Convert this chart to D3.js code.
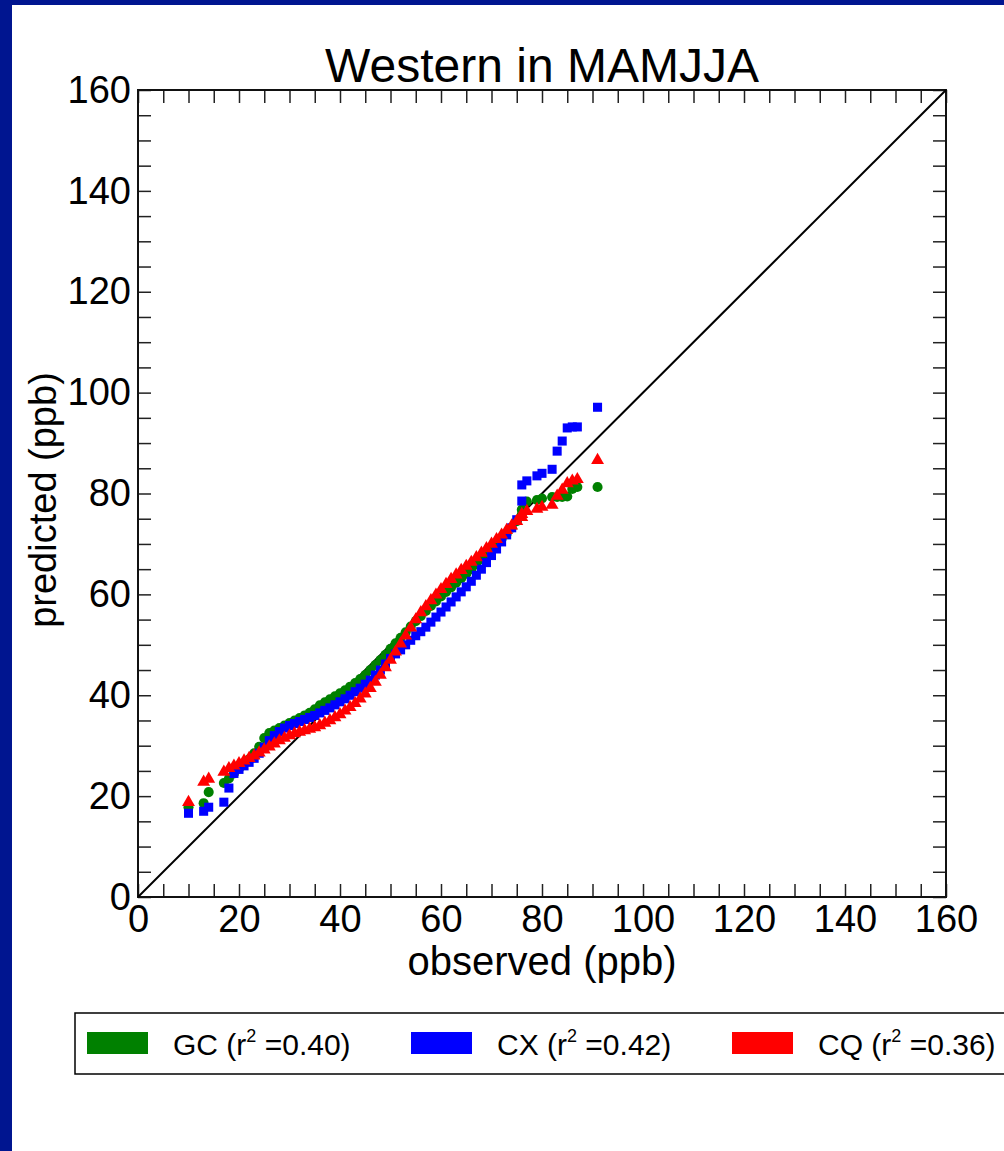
<!DOCTYPE html>
<html>
<head>
<meta charset="utf-8">
<script src="https://cdn.jsdelivr.net/npm/d3@7"></script>
<style>
  body { margin: 0; background: #fff; }
  text { font-family: "Liberation Sans", Arial, sans-serif; fill: #000; }
</style>
</head>
<body>
<svg width="1004" height="1151"></svg>
<script>
// observed quantiles (ppb), shared by all three models
const observed = [10, 13, 14, 17, 18, 19, 20, 21, 22, 23, 24, 25, 26, 27, 28, 29,
  30, 31, 32, 33, 34, 35, 36, 37, 38, 39, 40, 41, 42, 43, 44, 45, 46, 47, 48, 49,
  50, 51, 52, 53, 54, 55, 56, 57, 58, 59, 60, 61, 62, 63, 64, 65, 66, 67, 68, 69,
  70, 71, 72, 73, 74, 75, 76, 76, 77, 79, 80, 82, 83, 84, 85, 86, 87, 91]

const gcPred = [17.8, 18.6, 20.8, 22.6, 23.5, 24.5, 25.5, 26.5, 27.3, 28.5, 29.8, 31.5, 32.5, 33.0, 33.5, 34.0,
  34.5, 35.0, 35.5, 36.0, 36.5, 37.2, 38.0, 38.6, 39.2, 39.8, 40.4, 41.0, 41.7, 42.4, 43.2, 44.0, 45.0, 46.0, 47.0, 48.0,
  49.2, 50.3, 51.4, 52.5, 53.6, 54.7, 55.7, 56.7, 57.7, 58.6, 59.6, 60.5, 61.4, 62.3, 63.2, 64.1, 65.0, 66.0, 67.0, 68.0,
  69.0, 70.0, 71.0, 72.0, 73.2, 74.5, 75.8, 76.8, 78.4, 78.7, 79.0, 79.3, 79.3, 79.3, 79.4, 80.9, 81.3, 81.3]

const cxPred = [16.6, 17.0, 17.8, 18.8, 21.6, 24.5, 25.3, 26.0, 26.7, 27.5, 28.5, 29.7, 31.0, 32.0, 32.8, 33.5,
  34.0, 34.4, 34.8, 35.2, 35.6, 36.0, 36.5, 37.0, 37.5, 38.1, 38.7, 39.3, 40.0, 40.7, 41.4, 42.2, 43.0, 44.0, 45.0, 46.2,
  47.3, 48.2, 49.0, 50.0, 50.9, 51.8, 52.6, 53.5, 54.5, 55.5, 56.5, 57.5, 58.5, 59.5, 60.5, 61.5, 62.6, 63.8, 65.0, 66.3,
  67.7, 69.0, 70.4, 71.8, 73.2, 74.8, 78.5, 81.7, 82.5, 83.5, 84.0, 84.8, 88.4, 90.4, 93.0, 93.2, 93.2, 97.1]

const cqPred = [18.8, 22.8, 23.4, 24.8, 25.5, 26.0, 26.5, 27.0, 27.5, 28.0, 28.6, 29.2, 29.8, 30.4, 31.0, 31.5,
  32.0, 32.4, 32.7, 33.0, 33.3, 33.6, 34.0, 34.5, 35.0, 35.6, 36.2, 36.9, 37.6, 38.4, 39.3, 40.3, 41.4, 42.6, 44.0, 45.5,
  47.0, 48.6, 50.2, 51.8, 53.4, 55.0, 56.4, 57.6, 58.8, 59.9, 61.0, 62.0, 63.0, 63.9, 64.8, 65.6, 66.4, 67.3, 68.2, 69.1,
  70.0, 70.9, 71.8, 72.7, 73.6, 74.5, 75.3, 75.9, 76.5, 76.9, 77.3, 77.7, 79.5, 80.7, 82.0, 82.5, 82.8, 86.6]

const seriesNames = ['GC', 'CX', 'CQ']
const seriesR2 = ['0.40', '0.42', '0.36']
const seriesColors = ['#008000', '#0000ff', '#ff0000']
const seriesShapes = [d3.symbolCircle, d3.symbolSquare, d3.symbolTriangle]
const seriesPred = [gcPred, cxPred, cqPred]

const axisMax = 160
const labelTicks = [0, 20, 40, 60, 80, 100, 120, 140, 160]

const svg = d3.select('svg')

// dark blue frame on the left and top edges
svg.append('rect').attr('x', 0).attr('y', 0).attr('width', 1004).attr('height', 5).attr('fill', '#001590')
svg.append('rect').attr('x', 0).attr('y', 0).attr('width', 12).attr('height', 1151).attr('fill', '#001590')

const margin = { left: 138, top: 90 }
const innerWidth = 808
const innerHeight = 807

const g = svg.append('g')
  .attr('transform', `translate(${margin.left}, ${margin.top})`)

const xScale = d3.scaleLinear().domain([0, axisMax]).range([0, innerWidth])
const yScale = d3.scaleLinear().domain([0, axisMax]).range([innerHeight, 0])

const tickVals = d3.range(0, axisMax + 1, 5)
const fmt = d => labelTicks.includes(d) ? d : ''

const styleAxis = sel => {
  sel.select('.domain').remove()
  sel.selectAll('.tick line').attr('stroke', '#222').attr('stroke-width', 1.5)
  sel.selectAll('.tick text').filter(function () { return this.textContent === '' }).remove()
  sel.selectAll('.tick text')
    .style('font-size', '38px')
    .style('font-family', '"Liberation Sans", Arial, sans-serif')
}

g.append('g')
  .attr('transform', `translate(0, ${innerHeight})`)
  .call(d3.axisBottom(xScale).tickValues(tickVals).tickFormat(fmt).tickSize(-13).tickPadding(8))
  .call(styleAxis)

g.append('g')
  .call(d3.axisLeft(yScale).tickValues(tickVals).tickFormat(fmt).tickSize(-13).tickPadding(7))
  .call(styleAxis)

g.append('g')
  .call(d3.axisTop(xScale).tickValues(tickVals).tickFormat('').tickSize(-13))
  .call(styleAxis)

g.append('g')
  .attr('transform', `translate(${innerWidth}, 0)`)
  .call(d3.axisRight(yScale).tickValues(tickVals).tickFormat('').tickSize(-13))
  .call(styleAxis)

// frame
g.append('rect')
  .attr('width', innerWidth).attr('height', innerHeight)
  .attr('fill', 'none').attr('stroke', '#111').attr('stroke-width', 2)

// 1:1 line
g.append('line')
  .attr('x1', xScale(0)).attr('y1', yScale(0))
  .attr('x2', xScale(axisMax)).attr('y2', yScale(axisMax))
  .attr('stroke', '#000').attr('stroke-width', 2)

// points
const symSizes = [80, 82, 72]
seriesPred.forEach((pred, s) => {
  const sym = d3.symbol().type(seriesShapes[s]).size(symSizes[s])
  g.append('g')
    .selectAll('path')
    .data(observed.map((o, i) => ({ o, p: pred[i] })))
    .enter()
    .append('path')
    .attr('d', sym)
    .attr('transform', d => `translate(${xScale(d.o)}, ${yScale(d.p)})`)
    .attr('fill', seriesColors[s])
})

// titles
svg.append('text')
  .attr('x', 542).attr('y', 82)
  .attr('text-anchor', 'middle')
  .style('font-size', '48px')
  .text('Western in MAMJJA')

svg.append('text')
  .attr('x', 542).attr('y', 975)
  .attr('text-anchor', 'middle')
  .style('font-size', '40px')
  .text('observed (ppb)')

svg.append('text')
  .attr('transform', 'translate(56, 500) rotate(-90)')
  .attr('text-anchor', 'middle')
  .style('font-size', '38px')
  .text('predicted (ppb)')

// legend
const legend = svg.append('g')
legend.append('rect')
  .attr('x', 75).attr('y', 1013).attr('width', 1000).attr('height', 61)
  .attr('fill', '#fff').attr('stroke', '#000').attr('stroke-width', 1.5)

const legendX = [87, 411, 732]
seriesNames.forEach((name, s) => {
  const x = legendX[s]
  legend.append('rect')
    .attr('x', x).attr('y', 1032).attr('width', 61).attr('height', 22)
    .attr('fill', seriesColors[s])
  const t = legend.append('text')
    .attr('x', x + 86).attr('y', 1055)
    .style('font-size', '30px')
  t.append('tspan').text(`${name} (r`)
  t.append('tspan').attr('dy', -13).style('font-size', '18px').text('2')
  t.append('tspan').attr('dy', 13).text(` =${seriesR2[s]})`)
})
</script>
</body>
</html>
